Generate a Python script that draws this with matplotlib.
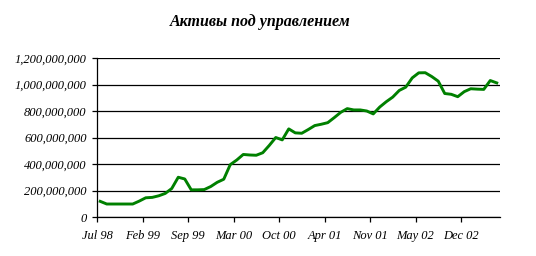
import numpy as np
import matplotlib.pyplot as plt
from matplotlib.ticker import FuncFormatter

# Assets under management, one value per period
assets = [118, 98, 98, 98, 98, 98, 120, 145, 148, 160,
          178, 215, 300, 287, 205, 205, 207, 230, 262, 285,
          395, 430, 472, 468, 466, 485, 540, 600, 582, 665,
          635, 632, 660, 690, 700, 712, 750, 790, 818, 808,
          808, 800, 778, 830, 870, 905, 955, 980, 1050, 1088,
          1089, 1060, 1025, 932, 926, 908, 946, 968, 965, 963,
          1030, 1012]
assets = np.array(assets) * 1e6

tick_labels = ["Jul 98", "Feb 99", "Sep 99", "Mar 00", "Oct 00",
               "Apr 01", "Nov 01", "May 02", "Dec 02"]
tick_step = 7

fig = plt.figure(figsize=(5.36, 2.56), dpi=100)
ax = fig.add_axes([97 / 536, 1 - 217 / 256, 403 / 536, 159 / 256])

x = np.arange(len(assets))
ax.plot(x, assets, color="#008000", linewidth=2.1, solid_joinstyle="round")

ax.set_xlim(-0.5, len(assets) - 0.5)
ax.set_ylim(0, 1.2e9)
ax.set_yticks(np.arange(0, 1.2e9 + 1, 2e8))
ax.yaxis.set_major_formatter(FuncFormatter(lambda v, p: f"{int(v):,}"))
ax.grid(axis="y", color="black", linewidth=0.9)
ax.set_axisbelow(True)

ax.set_xticks(np.arange(len(tick_labels)) * tick_step - 0.5)
ax.set_xticklabels(tick_labels)

for side in ["top", "right"]:
    ax.spines[side].set_visible(False)
for side in ["left", "bottom"]:
    ax.spines[side].set_linewidth(0.9)

ax.tick_params(direction="out", length=3.5, width=0.9)
ax.tick_params(axis="x", pad=6)
ax.tick_params(axis="y", pad=4)
for lab in ax.get_xticklabels() + ax.get_yticklabels():
    lab.set_fontfamily("Liberation Serif")
    lab.set_fontstyle("italic")
    lab.set_fontsize(9)

fig.text(260 / 536, 1 - 22 / 256, "Активы под управлением",
         ha="center", va="center", fontfamily="Liberation Serif",
         fontstyle="italic", fontweight="bold", fontsize=11.5)

fig.savefig("out.png", dpi=100)
